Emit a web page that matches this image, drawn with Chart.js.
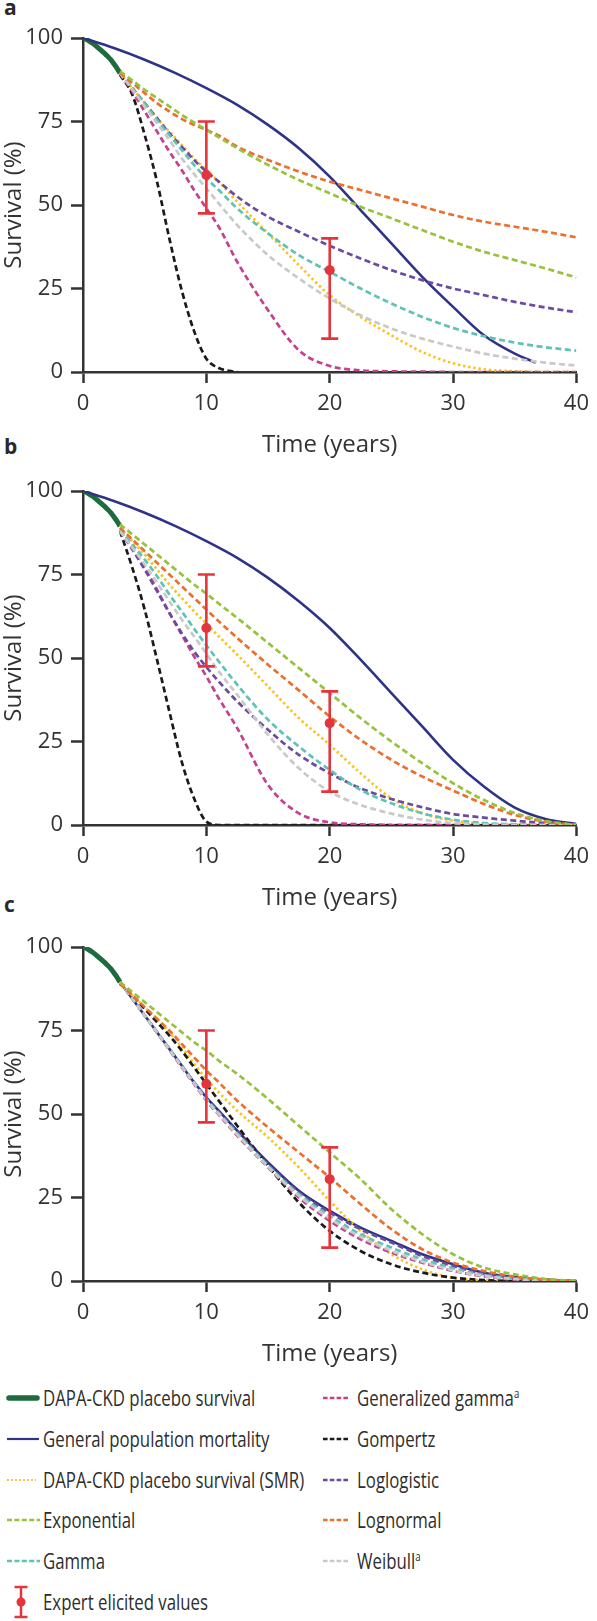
<!DOCTYPE html>
<html>
<head>
<meta charset="utf-8">
<script src="https://cdn.jsdelivr.net/npm/chart.js@4.4.1/dist/chart.umd.min.js"></script>
<style>
  body { margin: 0; background: #fff; font-family: "Open Sans", sans-serif; color: #2d2d2d; }
  #page { position: relative; width: 597px; height: 1621px; overflow: hidden; }
  .panel { position: absolute; left: 0; width: 597px; height: 460px; }
  .tag { position: absolute; left: 4px; font-weight: 700; font-size: 21px; line-height: 21px; color: #2a2a2a; }
  .row { position: absolute; height: 30px; display: flex; align-items: center; }
  .row svg { display: block; }
  .txt { position: absolute; font-size: 21px; line-height: 30px; white-space: nowrap;
         transform: scaleX(0.8); transform-origin: left center; }
  .txt sup { font-size: 12px; vertical-align: 8px; line-height: 0; }
</style>
</head>
<body>
<div id="page">
  <div class="tag" style="top:-3px">a</div>
  <div class="tag" style="top:436px">b</div>
  <div class="tag" style="top:894px">c</div>
  <canvas class="panel" id="chartA" width="597" height="460" style="top:0px"></canvas>
  <canvas class="panel" id="chartB" width="597" height="460" style="top:453px"></canvas>
  <canvas class="panel" id="chartC" width="597" height="460" style="top:909px"></canvas>
  <div id="legend"></div>
</div>

<script>
// ---- data ----
const kmTime = [0, 0.25, 0.5, 0.75, 1, 1.25, 1.5, 1.75, 2, 2.25, 2.5, 2.75, 3];
const kmSurv = [100, 99.6, 99.1, 98.5, 97.8, 97, 96.2, 95.4, 94.5, 93.5, 92.3, 91, 89.5];

const popTimeA = [0, 2.5, 5, 7.5, 10, 12.5, 15, 17.5, 20, 22.5, 25, 27.5, 30, 32.5, 35, 36.7];
const popSurvA = [100, 97, 93.5, 89.5, 85, 80, 74, 67, 58.5, 48.5, 38.5, 28.5, 19.5, 11, 5.5, 2.8];
const popTimeB = [0, 2.5, 5, 7.5, 10, 12.5, 15, 17.5, 20, 22.5, 25, 27.5, 30, 32.5, 35, 37.5, 40];
const popSurvB = [100, 97, 93.5, 89.5, 85, 80, 74, 67, 59, 49.5, 39.5, 29.5, 19.5, 11.5, 5.2, 1.8, 0.3];

// extrapolations start at ~3 years
const timeGrid = [3, 4, 5, 6, 7, 8, 9, 10, 11, 12.5, 15, 17.5, 20, 22.5, 25, 27.5, 30, 32.5, 35, 37.5, 40];

// panel a
const expA   = [90, 87.3, 84.5, 82, 79.5, 77, 74.7, 72.5, 70.3, 67, 62, 57.5, 53.5, 49.5, 46, 42.5, 39, 36, 33.5, 31, 28.3];
const lnormA = [89.5, 86.5, 83.5, 80.5, 78, 75.8, 74, 72.5, 70.8, 67.5, 63.5, 60, 57, 54.5, 52, 49.5, 47, 45, 43.5, 42, 40.3];
const llogA  = [89.5, 85, 80.5, 76, 71.5, 67.5, 63.5, 60, 57, 52.5, 46.5, 42, 37.8, 34, 30.5, 27.5, 25, 23, 21, 19.3, 17.9];
const gammaA = [89.5, 85, 80.5, 75.5, 71, 66.5, 62, 58, 54.5, 49, 41.5, 35, 30, 25, 20.5, 16.5, 13.2, 10.7, 8.8, 7.4, 6.4];
const smrA   = [89.5, 85, 80.5, 76, 72, 68, 64, 60.5, 57, 51, 41.5, 32, 23, 16.5, 11, 6, 2.6, 0.8, 0.2, 0, 0];
const weibA  = [89.5, 84.5, 79.5, 74.5, 69.5, 64, 59.3, 55, 50.5, 44, 35, 28, 22, 17, 13, 10, 7.6, 5.5, 4, 2.8, 1.9];
const ggamA  = [89.5, 84, 78, 72, 66, 60.5, 54.5, 49, 43.5, 33, 18.5, 6.5, 1.8, 0.5, 0.2, 0.1, 0, 0, 0, 0, 0];
const gompA  = [89, 83, 71, 57, 40, 24.5, 12.3, 4, 1.2, 0, null, null, null, null, null, null, null, null, null, null, null];

// panel b
const expB   = [90, 87, 84, 81, 78, 75, 72, 69.3, 66.3, 62, 54.5, 47, 39.5, 32, 25, 18.5, 12.5, 7.5, 3.6, 1.2, 0];
const lnormB = [89, 85.5, 82, 78.5, 75, 71.5, 68, 64.5, 61, 56, 48, 40.3, 32.5, 25.5, 19.5, 14.5, 10.3, 6.3, 3, 1, 0];
const llogB  = [88, 82.5, 76.5, 70, 63.5, 57.5, 52, 47.3, 43, 37, 28.5, 21, 15.5, 11, 7.8, 5.3, 3.3, 2.2, 1.3, 0.6, 0];
const gammaB = [88.5, 84, 79.5, 74.5, 69, 64, 58.8, 53.8, 49, 42, 31.5, 23.5, 16.5, 10.5, 6.5, 3.5, 1.6, 0.6, 0.2, 0, 0];
const smrB   = [89, 85, 81, 76.5, 72, 68, 64, 60.3, 56.5, 51, 41.5, 32, 24, 15.5, 8, 3.5, 1.3, 0.3, 0, 0, 0];
const weibB  = [88, 83, 78, 72.5, 67, 61.5, 56.5, 51.3, 46, 39, 27, 17, 10, 6, 3.4, 1.6, 0.6, 0.2, 0, 0, 0];
const ggamB  = [88, 83, 77, 70.5, 63.5, 57, 50.5, 44.5, 38, 29, 12, 3.5, 0.8, 0.2, 0, 0, 0, 0, 0, 0, 0];
const gompB  = [88, 77, 64.5, 49.5, 34, 19, 8, 1, 0, 0, 0, 0, 0, 0, 0, 0, 0, 0, 0, 0, 0];

// panel c
const popSurvC = [89.5, 84.5, 79.5, 74.5, 69.5, 64.5, 59.5, 55, 51, 45, 35.5, 27, 21, 16, 12, 8, 5, 2.5, 1.2, 0.4, 0];
const expC   = [89.5, 86.5, 83.5, 80.5, 77.5, 74.5, 71.5, 69, 66, 62, 54.5, 46.5, 38.5, 30.5, 21.5, 14, 8, 4, 2, 0.6, 0];
const lnormC = [89, 85.5, 82, 78.5, 75, 71, 67, 63, 59.5, 54, 46, 38.5, 31, 23, 15.5, 9.5, 5.5, 3, 1.3, 0.4, 0];
const llogC  = [89.5, 84.5, 79.5, 74.5, 69.5, 64.5, 59.5, 54.8, 50.7, 44.7, 35, 26.5, 20.5, 15.5, 11.5, 7.5, 4.5, 2.2, 1, 0.3, 0];
const gammaC = [89.5, 84.5, 79.5, 74.5, 69.5, 64.5, 59.5, 54.5, 50.3, 44.2, 34.5, 26, 19.5, 14, 10, 6.5, 3.8, 1.8, 0.7, 0.2, 0];
const smrC   = [89, 85.5, 82, 78.5, 74.5, 70, 65, 60.5, 56.5, 51, 43, 34, 24, 15, 8, 3.5, 1, 0.2, 0, 0, 0];
const weibC  = [89.5, 84.5, 79.5, 74.4, 69.3, 64.2, 59.2, 54.2, 50, 43.8, 34.2, 25.5, 18.7, 13.2, 9, 5.8, 3.2, 1.5, 0.6, 0.1, 0];
const ggamC  = [89.5, 84.5, 79.5, 74.3, 69.2, 64, 59, 54, 49.8, 43.5, 34, 25, 18, 12.5, 8.5, 5.5, 3, 1.4, 0.5, 0.1, 0];
const gompC  = [89, 85.5, 81.5, 77.5, 73.5, 69, 64, 59, 54, 46.5, 34.5, 23.5, 15, 9, 5, 2.5, 1, 0.3, 0, 0, 0];

// expert elicited values (mean, range)
const expertTime = [10, 20];
const expertMid  = [59, 30.5];
const expertLow  = [47.5, 10];
const expertHigh = [75, 40];

const xTicks = [0, 10, 20, 30, 40];
const yTicks = [0, 25, 50, 75, 100];

// ---- styles ----
const COL = {
  km: '#1e6b3d', pop: '#2f3387', smr: '#f9c31f', exp: '#97c23d', gamma: '#5ec3b4',
  ggam: '#c5408e', gomp: '#1a1a1a', llog: '#6b4aa0', lnorm: '#ec6f2d', weib: '#c9c9c9', red: '#e4343c'
};
const AXIS = '#333333';
const DASH = [6, 3.5];
const DOTS = [2.4, 2.8];

function pts(xs, ys) {
  return ys.map((v, i) => ({ x: xs[i], y: v }));
}

function line(xs, ys, color, dash, width) {
  return {
    data: pts(xs, ys), borderColor: color, borderWidth: width || 2.7,
    borderDash: dash || [], pointRadius: 0, fill: false, cubicInterpolationMode: 'monotone'
  };
}

const expertBars = {
  id: 'expertBars',
  afterDatasetsDraw(chart) {
    const { ctx, scales: { x, y } } = chart;
    ctx.save();
    ctx.strokeStyle = COL.red;
    ctx.fillStyle = COL.red;
    ctx.lineWidth = 2.6;
    expertTime.forEach((t, i) => {
      const px = x.getPixelForValue(t);
      const top = y.getPixelForValue(expertHigh[i]);
      const bot = y.getPixelForValue(expertLow[i]);
      ctx.beginPath();
      ctx.moveTo(px, top); ctx.lineTo(px, bot);
      ctx.moveTo(px - 8.5, top); ctx.lineTo(px + 8.5, top);
      ctx.moveTo(px - 8.5, bot); ctx.lineTo(px + 8.5, bot);
      ctx.stroke();
      ctx.beginPath();
      ctx.arc(px, y.getPixelForValue(expertMid[i]), 5, 0, Math.PI * 2);
      ctx.fill();
    });
    ctx.restore();
  }
};

const tickFont = { family: 'Open Sans', size: 22 };
const titleFont = { family: 'Open Sans', size: 24 };

function makePanel(id, s) {
  const datasets = [
    line(timeGrid, s.exp, COL.exp, DASH),
    line(timeGrid, s.lnorm, COL.lnorm, DASH),
    line(timeGrid, s.weib, COL.weib, DASH),
    line(timeGrid, s.gamma, COL.gamma, DASH),
    line(timeGrid, s.llog, COL.llog, DASH),
    line(timeGrid, s.ggam, COL.ggam, DASH),
    line(timeGrid, s.gomp, COL.gomp, DASH),
    line(timeGrid, s.smr, COL.smr, DOTS),
    line(s.popTime, s.pop, COL.pop, [], 2.6),
    line(kmTime, kmSurv, COL.km, [], 5)
  ];

  new Chart(document.getElementById(id), {
    type: 'line',
    data: { datasets },
    options: {
      responsive: false,
      animation: false,
      layout: { padding: { top: 38, right: 14, left: 0, bottom: 0 } },
      plugins: { legend: { display: false }, tooltip: { enabled: false } },
      scales: {
        x: {
          type: 'linear', min: 0, max: 40,
          afterFit: (sc) => { sc.height = 88; },
          afterBuildTicks: (sc) => { sc.ticks = xTicks.map(v => ({ value: v })); },
          ticks: { font: tickFont, color: AXIS, padding: 8, maxRotation: 0 },
          grid: { drawOnChartArea: false, drawTicks: true, tickLength: 11, tickWidth: 2.5, tickColor: AXIS },
          border: { display: true, color: AXIS, width: 2.5 },
          title: { display: true, text: 'Time (years)', font: titleFont, color: AXIS, padding: { top: 0, bottom: 0 } }
        },
        y: {
          min: 0, max: 100,
          afterFit: (sc) => { sc.width = 83; },
          afterBuildTicks: (sc) => { sc.ticks = yTicks.map(v => ({ value: v })); },
          ticks: { font: tickFont, color: AXIS, padding: 8 },
          grid: { drawOnChartArea: false, drawTicks: true, tickLength: 12, tickWidth: 2.5, tickColor: AXIS },
          border: { display: true, color: AXIS, width: 2.5 },
          title: { display: true, text: 'Survival (%)', font: titleFont, color: AXIS, padding: { top: 0, bottom: 0 } }
        }
      }
    },
    plugins: [expertBars]
  });
}

makePanel('chartA', {
  popTime: popTimeA, pop: popSurvA,
  exp: expA, lnorm: lnormA, llog: llogA, gamma: gammaA, smr: smrA, weib: weibA, ggam: ggamA, gomp: gompA
});
makePanel('chartB', {
  popTime: popTimeB, pop: popSurvB,
  exp: expB, lnorm: lnormB, llog: llogB, gamma: gammaB, smr: smrB, weib: weibB, ggam: ggamB, gomp: gompB
});
makePanel('chartC', {
  popTime: timeGrid, pop: popSurvC,
  exp: expC, lnorm: lnormC, llog: llogC, gamma: gammaC, smr: smrC, weib: weibC, ggam: ggamC, gomp: gompC
});

// ---- legend (two columns, html) ----
const legendLeft = [
  { label: 'DAPA-CKD placebo survival', color: COL.km, kind: 'thick' },
  { label: 'General population mortality', color: COL.pop, kind: 'solid' },
  { label: 'DAPA-CKD placebo survival (SMR)', color: COL.smr, kind: 'dots' },
  { label: 'Exponential', color: COL.exp, kind: 'dash' },
  { label: 'Gamma', color: COL.gamma, kind: 'dash' },
  { label: 'Expert elicited values', color: COL.red, kind: 'bar' }
];
const legendRight = [
  { label: 'Generalized gamma<sup>a</sup>', color: COL.ggam, kind: 'dash' },
  { label: 'Gompertz', color: COL.gomp, kind: 'dash' },
  { label: 'Loglogistic', color: COL.llog, kind: 'dash' },
  { label: 'Lognormal', color: COL.lnorm, kind: 'dash' },
  { label: 'Weibull<sup>a</sup>', color: COL.weib, kind: 'dash' }
];

function symbol(item, w) {
  const c = item.color;
  if (item.kind === 'thick')
    return `<svg width="${w}" height="30"><line x1="3" y1="15" x2="${w - 3}" y2="15" stroke="${c}" stroke-width="5.5" stroke-linecap="round"/></svg>`;
  if (item.kind === 'solid')
    return `<svg width="${w}" height="30"><line x1="1" y1="15" x2="${w - 1}" y2="15" stroke="${c}" stroke-width="2.2"/></svg>`;
  if (item.kind === 'dots')
    return `<svg width="${w}" height="30"><line x1="1" y1="15" x2="${w - 4}" y2="15" stroke="${c}" stroke-width="2" stroke-dasharray="1.8 2.2"/></svg>`;
  if (item.kind === 'bar')
    return `<svg width="${w}" height="36"><g stroke="${c}" stroke-width="2.5"><line x1="15" y1="3" x2="15" y2="33"/><line x1="8.5" y1="3" x2="21.5" y2="3"/><line x1="8.5" y1="33" x2="21.5" y2="33"/></g><circle cx="15" cy="18" r="4.5" fill="${c}"/></svg>`;
  const d = w > 30 ? '5 2.4' : '4.6 2.2';
  return `<svg width="${w}" height="30"><line x1="1" y1="15" x2="${w}" y2="15" stroke="${c}" stroke-width="2.4" stroke-dasharray="${d}"/></svg>`;
}

const legendEl = document.getElementById('legend');
let html = '';
legendLeft.forEach((it, i) => {
  const cy = 1398 + i * 40.8;
  const h = it.kind === 'bar' ? 36 : 30;
  html += `<div class="row" style="left:6px;top:${cy - h / 2}px;height:${h}px">${symbol(it, 34)}</div>`;
  html += `<div class="txt" style="left:43px;top:${cy - 15}px">${it.label}</div>`;
});
legendRight.forEach((it, i) => {
  const cy = 1398 + i * 40.8;
  html += `<div class="row" style="left:322px;top:${cy - 15}px">${symbol(it, 27)}</div>`;
  html += `<div class="txt" style="left:357px;top:${cy - 15}px">${it.label}</div>`;
});
legendEl.innerHTML = html;
</script>
</body>
</html>
